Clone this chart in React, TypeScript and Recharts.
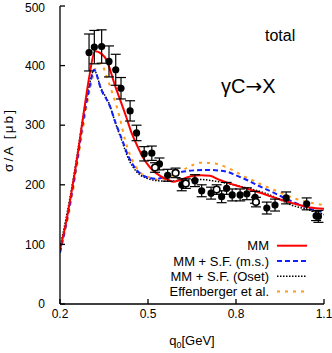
import React from 'react';
import { ComposedChart, Line, Scatter, XAxis, YAxis, ErrorBar, Legend } from 'recharts';

// axis ticks
const xTicks = [0.2, 0.5, 0.8, 1.1];
const yTicks = [0, 100, 200, 300, 400, 500];

// MM
const mmQ = [0.2, 0.22, 0.24, 0.26, 0.28, 0.3, 0.319, 0.353, 0.39, 0.427, 0.444, 0.461, 0.484, 0.507, 0.541, 0.57, 0.586, 0.609, 0.643, 0.68, 0.711, 0.745, 0.78, 0.814, 0.86, 0.905, 0.94, 0.973, 1.01, 1.052, 1.1];
const mmSigma = [91, 135, 190, 250, 318, 382, 424, 414, 363, 312, 287, 268, 245, 229, 215, 208, 205, 208, 214, 216, 215, 208, 202, 197, 190, 183, 177, 172, 167, 162, 160];

// MM + S.F. (m.s.)
const msQ = [0.2, 0.22, 0.24, 0.26, 0.28, 0.3, 0.316, 0.34, 0.37, 0.388, 0.41, 0.433, 0.461, 0.49, 0.53, 0.575, 0.632, 0.7, 0.768, 0.8, 0.837, 0.87, 0.905, 0.94, 0.973, 1.02, 1.064, 1.1];
const msSigma = [86, 132, 185, 245, 310, 362, 393, 360, 332, 306, 278, 248, 225, 214, 210, 217, 223, 225, 222, 216, 208, 200, 192, 184, 176, 166, 158, 154];

// MM + S.F. (Oset)
const osetQ = [0.2, 0.22, 0.24, 0.26, 0.28, 0.3, 0.316, 0.34, 0.37, 0.388, 0.41, 0.433, 0.461, 0.496, 0.53, 0.564, 0.62, 0.677, 0.73, 0.791, 0.85, 0.905, 0.95, 0.984, 1.04, 1.1];
const osetSigma = [95, 142, 195, 255, 318, 368, 392, 362, 333, 305, 275, 244, 222, 211, 207, 206, 207, 209, 206, 200, 193, 185, 175, 167, 159, 150];

// Effenberger et al.
const effQ = [0.2, 0.22, 0.24, 0.26, 0.28, 0.3, 0.325, 0.342, 0.353, 0.37, 0.388, 0.405, 0.422, 0.444, 0.473, 0.507, 0.541, 0.575, 0.609, 0.643, 0.677, 0.723, 0.76, 0.791, 0.825, 0.859, 0.893, 0.927, 0.96, 0.995, 1.035, 1.075, 1.1];
const effSigma = [88, 128, 178, 238, 300, 355, 399, 404, 390, 366, 340, 310, 275, 244, 221, 212, 208, 214, 222, 231, 237, 236, 231, 224, 215, 207, 199, 192, 185, 178, 172, 168, 166];

// data (filled)
const dataQ = [0.299, 0.317, 0.342, 0.367, 0.39, 0.408, 0.439, 0.461, 0.487, 0.513, 0.539, 0.567, 0.615, 0.66, 0.683, 0.715, 0.751, 0.768, 0.787, 0.814, 0.837, 0.865, 0.905, 0.933, 0.971, 1.041, 1.073, 1.081];
const dataSigma = [422, 431, 432, 407, 393, 362, 324, 287, 252, 253, 235, 216, 200, 207, 190, 186, 180, 194, 183, 183, 185, 179, 161, 166, 178, 168, 148, 147];
const dataErr = [31, 28, 28, 26, 26, 18, 17, 13, 12, 12, 10, 10, 10, 10, 10, 10, 10, 10, 10, 10, 10, 10, 10, 10, 10, 10, 8, 10];

// data (open)
const openQ = [0.524, 0.594, 0.629, 0.734, 0.868];
const openSigma = [229, 220, 202, 192, 171];
const openErr = [8, 8, 8, 8, 8];

const zip = (q: number[], s: number[], e?: number[]) =>
  q.map((x, i) => (e ? { x, y: s[i], err: e[i] } : { x, y: s[i] }));

const FONT = '"Liberation Sans", Arial, sans-serif';

const series = [
  { name: 'MM', q: mmQ, s: mmSigma, color: '#ff0000', dash: undefined, width: 2 },
  { name: 'MM + S.F. (m.s.)', q: msQ, s: msSigma, color: '#1020ff', dash: '5 3', width: 2 },
  { name: 'MM + S.F. (Oset)', q: osetQ, s: osetSigma, color: '#000000', dash: '1.5 1.5', width: 1.5 },
  { name: 'Effenberger et al.', q: effQ, s: effSigma, color: '#ff9a1a', dash: '3 5', width: 2 },
];

const Dot = (props: any) => <circle cx={props.cx} cy={props.cy} r={3.6} fill="#000" />;
const OpenDot = (props: any) => (
  <circle cx={props.cx} cy={props.cy} r={3.3} fill="#fff" stroke="#000" strokeWidth={1.6} />
);

const XLabel = () => (
  <text x={192} y={345} textAnchor="middle" fontFamily={FONT} fontSize={13} fill="#000">
    q<tspan fontSize={9} dy={3}>0</tspan>
    <tspan dy={-3}>[GeV]</tspan>
  </text>
);

const YLabel = () => (
  <text
    x={0}
    y={0}
    transform="translate(13,141) rotate(-90)"
    textAnchor="middle"
    fontFamily={FONT}
    fontSize={13.5}
    textLength={62}
    lengthAdjust="spacing"
    fill="#000"
  >
    σ/A [μb]
  </text>
);

// legend plus the two notes, drawn over the whole chart
const Overlay = () => (
  <svg width={332} height={353} style={{ display: 'block' }}>
    <g fontFamily={FONT} fill="#000">
      <text x={265} y={41} fontSize={16}>total</text>
      <text x={221} y={93} fontSize={20}>
        γC<tspan fontFamily='"DejaVu Sans", sans-serif'>→</tspan>X
      </text>
    </g>
    {series.map((s, i) => {
      const cy = 245.7 + i * 15.3;
      return (
        <g key={s.name}>
          <text x={269} y={cy + 4.5} textAnchor="end" fontFamily={FONT} fontSize={13} fill="#000">
            {s.name}
          </text>
          <line x1={277} x2={307} y1={cy} y2={cy} stroke={s.color} strokeWidth={s.width} strokeDasharray={s.dash} />
        </g>
      );
    })}
  </svg>
);

export default function App() {
  const axisStyle = { stroke: '#000', strokeWidth: 1.3 };
  const tickStyle = { fill: '#000', fontSize: 12, fontFamily: FONT };
  return (
    <div style={{ position: 'absolute', left: 0, top: 0, width: 332, height: 353, background: '#fff' }}>
      <ComposedChart width={332} height={353} margin={{ top: 6, right: 8, bottom: 0, left: 0 }}>
        <XAxis
          dataKey="x"
          type="number"
          domain={[0.2, 1.1]}
          ticks={xTicks}
          allowDataOverflow
          height={49}
          tickSize={-5}
          tickMargin={10}
          axisLine={axisStyle}
          tickLine={axisStyle}
          tick={tickStyle}
          tickFormatter={(v: number) => v.toFixed(1)}
          label={<XLabel />}
        />
        <XAxis
          xAxisId="top"
          orientation="top"
          type="number"
          domain={[0.2, 1.1]}
          ticks={xTicks}
          allowDataOverflow
          height={0}
          tickSize={-5}
          axisLine={axisStyle}
          tickLine={axisStyle}
          tickFormatter={() => ''}
        />
        <YAxis
          dataKey="y"
          type="number"
          domain={[0, 500]}
          ticks={yTicks}
          allowDataOverflow
          width={60}
          tickSize={-5}
          tickMargin={20}
          axisLine={axisStyle}
          tickLine={axisStyle}
          tick={tickStyle}
          label={<YLabel />}
        />
        <YAxis
          yAxisId="right"
          orientation="right"
          type="number"
          domain={[0, 500]}
          ticks={yTicks}
          allowDataOverflow
          width={0}
          tickSize={-5}
          axisLine={axisStyle}
          tickLine={axisStyle}
          tickFormatter={() => ''}
        />
        <Legend
          layout="horizontal"
          verticalAlign="middle"
          align="center"
          content={() => <Overlay />}
          wrapperStyle={{ left: 0, top: 0, width: 332, height: 353, pointerEvents: 'none' }}
        />
        {series
          .slice()
          .reverse()
          .map((s) => (
            <Line
              key={s.name}
              data={zip(s.q, s.s)}
              dataKey="y"
              type="monotone"
              stroke={s.color}
              strokeWidth={s.width}
              strokeDasharray={s.dash}
              dot={false}
              activeDot={false}
              isAnimationActive={false}
            />
          ))}
        <Scatter data={zip(dataQ, dataSigma, dataErr)} shape={<Dot />} isAnimationActive={false}>
          <ErrorBar dataKey="err" direction="y" width={5} stroke="#000" strokeWidth={1.2} />
        </Scatter>
        <Scatter data={zip(openQ, openSigma, openErr)} shape={<OpenDot />} isAnimationActive={false}>
          <ErrorBar dataKey="err" direction="y" width={5} stroke="#000" strokeWidth={1.2} />
        </Scatter>
      </ComposedChart>
    </div>
  );
}
